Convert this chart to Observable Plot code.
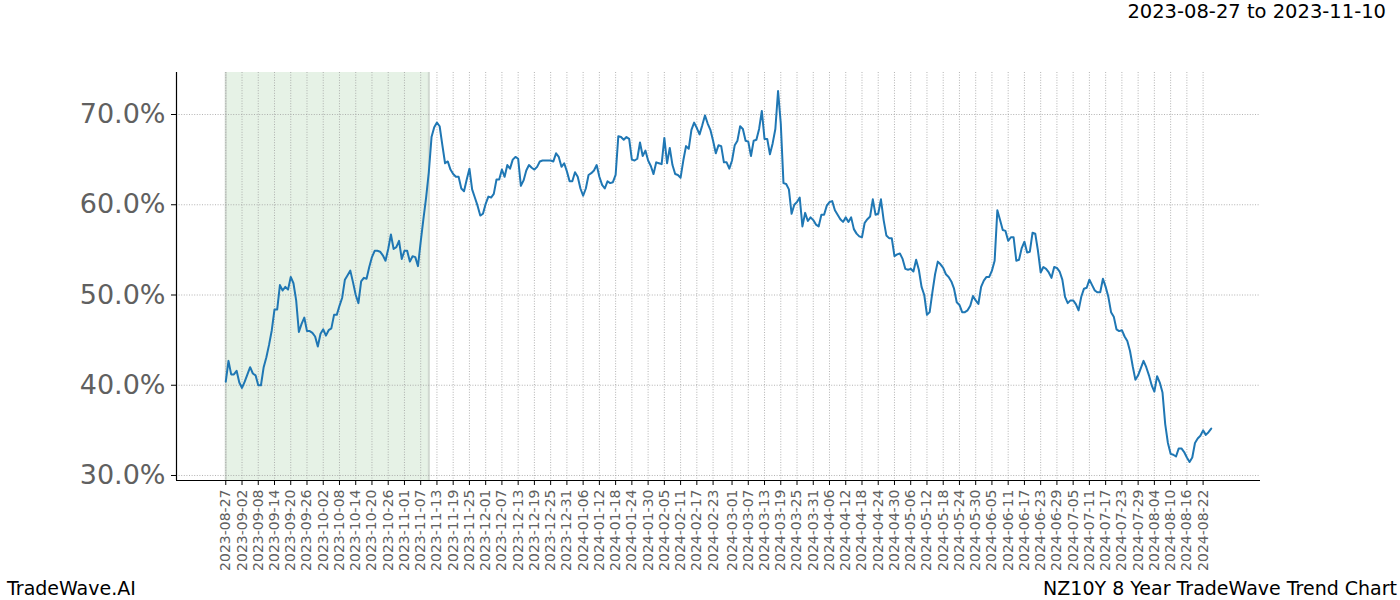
<!DOCTYPE html>
<html><head><meta charset="utf-8">
<script src="https://cdn.jsdelivr.net/npm/d3@7"></script>
<script src="https://cdn.jsdelivr.net/npm/@observablehq/plot@0.6"></script>
<style>
body{margin:0;background:#fff;font-family:"DejaVu Sans",sans-serif;}
#wrap{position:relative;width:1400px;height:600px;overflow:hidden;}
#chart{position:absolute;left:0;top:0;}
.t{position:absolute;line-height:1;white-space:nowrap;color:#000;font-family:"DejaVu Sans",sans-serif;}
</style></head><body>
<div id="wrap">
<div id="chart"></div>
<div class="t" style="right:14px;top:2px;font-size:19.5px;">2023-08-27 to 2023-11-10</div>
<div class="t" style="left:7px;top:579px;font-size:19px;">TradeWave.AI</div>
<div class="t" style="right:3px;top:579px;font-size:19px;">NZ10Y 8 Year TradeWave Trend Chart</div>
</div>
<script>
const startDate = "2023-08-27";
const values = [
40.4, 42.7, 41.2, 41.2, 41.6, 40.3, 39.7, 40.4, 41.2, 42.0,
41.3, 41.1, 40.0, 40.0, 42.0, 43.1, 44.5, 46.1, 48.4, 48.4,
51.1, 50.5, 50.9, 50.6, 52.0, 51.3, 49.4, 45.9, 46.8, 47.5,
46.0, 46.0, 45.8, 45.4, 44.3, 45.7, 46.2, 45.5, 46.1, 46.3,
47.8, 47.8, 48.8, 49.7, 51.7, 52.2, 52.7, 51.4, 50.0, 49.1,
51.5, 51.9, 51.8, 53.1, 54.2, 54.9, 54.9, 54.8, 54.4, 53.8,
55.1, 56.7, 55.1, 55.3, 56.0, 54.0, 54.9, 54.9, 53.7, 54.3,
54.2, 53.2, 55.9, 58.4, 60.8, 63.6, 67.5, 68.6, 69.1, 68.7,
66.6, 64.6, 64.8, 63.9, 63.4, 63.1, 63.1, 61.8, 61.5, 62.8,
64.0, 61.7, 60.8, 59.9, 58.8, 59.0, 60.1, 60.9, 60.8, 61.2,
62.8, 62.8, 63.9, 63.1, 64.4, 64.0, 65.0, 65.3, 65.1, 62.1,
62.7, 63.8, 64.4, 64.1, 63.9, 64.2, 64.8, 64.9, 64.9, 64.9,
64.9, 64.8, 65.7, 65.3, 64.2, 64.6, 63.7, 62.6, 62.6, 63.6,
63.1, 61.8, 61.0, 61.8, 63.3, 63.5, 63.8, 64.4, 63.1, 62.2,
61.8, 62.6, 62.4, 62.5, 63.3, 67.6, 67.5, 67.2, 67.5, 67.3,
65.0, 64.9, 65.1, 66.9, 65.4, 66.0, 64.9, 64.3, 63.4, 64.7,
64.6, 64.5, 67.4, 64.6, 66.3, 64.4, 63.4, 63.3, 63.0, 64.9,
66.5, 66.2, 68.3, 69.1, 68.5, 67.8, 68.8, 69.9, 69.0, 68.3,
67.1, 65.7, 66.6, 66.5, 64.7, 64.7, 64.0, 64.9, 66.6, 67.1,
68.7, 68.4, 67.1, 67.0, 65.4, 67.1, 67.2, 68.4, 70.4, 67.3,
67.3, 65.6, 66.8, 68.4, 72.6, 69.0, 62.4, 62.3, 61.7, 59.0,
60.0, 60.3, 60.8, 57.6, 59.1, 58.2, 58.6, 58.3, 57.8, 57.6,
58.9, 58.9, 59.9, 60.3, 60.4, 59.4, 58.9, 58.4, 58.1, 58.6,
58.1, 58.6, 57.3, 56.8, 56.5, 56.4, 58.0, 58.4, 58.7, 60.6,
58.9, 59.0, 60.6, 58.3, 56.6, 56.3, 56.3, 54.3, 54.5, 54.6,
54.0, 52.9, 52.8, 52.9, 52.6, 53.9, 52.8, 50.9, 50.0, 47.8,
48.1, 50.3, 52.3, 53.7, 53.4, 53.0, 52.3, 52.0, 51.5, 50.7,
49.2, 48.9, 48.1, 48.1, 48.3, 48.8, 49.9, 49.4, 49.0, 50.9,
51.6, 52.0, 52.0, 52.7, 53.8, 59.4, 58.3, 57.2, 57.1, 56.0,
56.4, 56.4, 53.8, 53.9, 55.2, 55.9, 54.7, 54.8, 56.9, 56.8,
54.9, 52.5, 53.1, 52.9, 52.5, 51.9, 53.1, 53.0, 52.6, 51.7,
49.8, 49.1, 49.4, 49.4, 49.0, 48.3, 49.8, 50.7, 50.8, 51.7,
51.1, 50.5, 50.3, 50.3, 51.8, 50.9, 49.8, 48.1, 47.6, 46.2,
46.0, 46.1, 45.4, 44.9, 43.8, 42.1, 40.6, 41.1, 41.9, 42.7,
42.0, 41.1, 40.0, 39.3, 41.0, 40.3, 39.2, 35.7, 33.6, 32.4,
32.3, 32.1, 33.0, 33.0, 32.6, 32.0, 31.5, 32.0, 33.6, 34.1,
34.4, 35.0, 34.5, 34.8, 35.2
];
const shadeStart = "2023-08-27";
const shadeEnd = "2023-11-10";
const xTickLabels = [
"2023-08-27","2023-09-02","2023-09-08","2023-09-14","2023-09-20","2023-09-26",
"2023-10-02","2023-10-08","2023-10-14","2023-10-20","2023-10-26",
"2023-11-01","2023-11-07","2023-11-13","2023-11-19","2023-11-25",
"2023-12-01","2023-12-07","2023-12-13","2023-12-19","2023-12-25","2023-12-31",
"2024-01-06","2024-01-12","2024-01-18","2024-01-24","2024-01-30",
"2024-02-05","2024-02-11","2024-02-17","2024-02-23",
"2024-03-01","2024-03-07","2024-03-13","2024-03-19","2024-03-25","2024-03-31",
"2024-04-06","2024-04-12","2024-04-18","2024-04-24","2024-04-30",
"2024-05-06","2024-05-12","2024-05-18","2024-05-24","2024-05-30",
"2024-06-05","2024-06-11","2024-06-17","2024-06-23","2024-06-29",
"2024-07-05","2024-07-11","2024-07-17","2024-07-23","2024-07-29",
"2024-08-04","2024-08-10","2024-08-16","2024-08-22"
];
const yTicks = [30, 40, 50, 60, 70];

const parse = d3.utcParse("%Y-%m-%d");
const t0 = parse(startDate);
const data = values.map((v, i) => ({date: d3.utcDay.offset(t0, i), value: v}));
const [d0, d1] = d3.extent(data, d => d.date);
const xpad = (d1 - d0) * 0.05;
const xDomain = [new Date(+d0 - xpad), new Date(+d1 + xpad)];
const [v0, v1] = d3.extent(values);
const ypad = (v1 - v0) * 0.05;
const yDomain = [v0 - ypad, v1 + ypad];
const xTicks = xTickLabels.map(parse);
const gridStyle = {stroke: "#a0a0a0", strokeOpacity: 1, strokeWidth: 0.8, strokeDasharray: "1,1.6"};

const chart = Plot.plot({
  width: 1400, height: 600,
  marginLeft: 176, marginRight: 140, marginTop: 72, marginBottom: 120,
  style: {fontFamily: "DejaVu Sans", background: "transparent"},
  x: {type: "utc", domain: xDomain},
  y: {domain: yDomain},
  marks: [
    Plot.rect([{a: parse(shadeStart), b: parse(shadeEnd)}], {x1: "a", x2: "b", fill: "#e6f2e6"}),
    Plot.ruleX([parse(shadeStart), parse(shadeEnd)], {stroke: "#d0d8d0", strokeWidth: 2}),
    Plot.gridX(xTicks, gridStyle),
    Plot.gridY(yTicks, gridStyle),
    Plot.line(data, {x: "date", y: "value", stroke: "#1f77b4", strokeWidth: 2}),
    Plot.ruleX([xDomain[0]], {stroke: "black", strokeWidth: 1.2}),
    Plot.ruleY([yDomain[0]], {stroke: "black", strokeWidth: 1.2}),
    Plot.axisX(xTicks, {tickFormat: d3.utcFormat("%Y-%m-%d"), tickRotate: -90, fontSize: 14, fill: "#606060", stroke: "black", tickSize: 5, tickPadding: 4, label: null}),
    Plot.axisY(yTicks, {tickFormat: d => d.toFixed(1) + "%", fontSize: 27, fill: "#606060", stroke: "black", tickSize: 5, tickPadding: 6, label: null})
  ]
});
document.getElementById("chart").appendChild(chart);
</script>
</body></html>
